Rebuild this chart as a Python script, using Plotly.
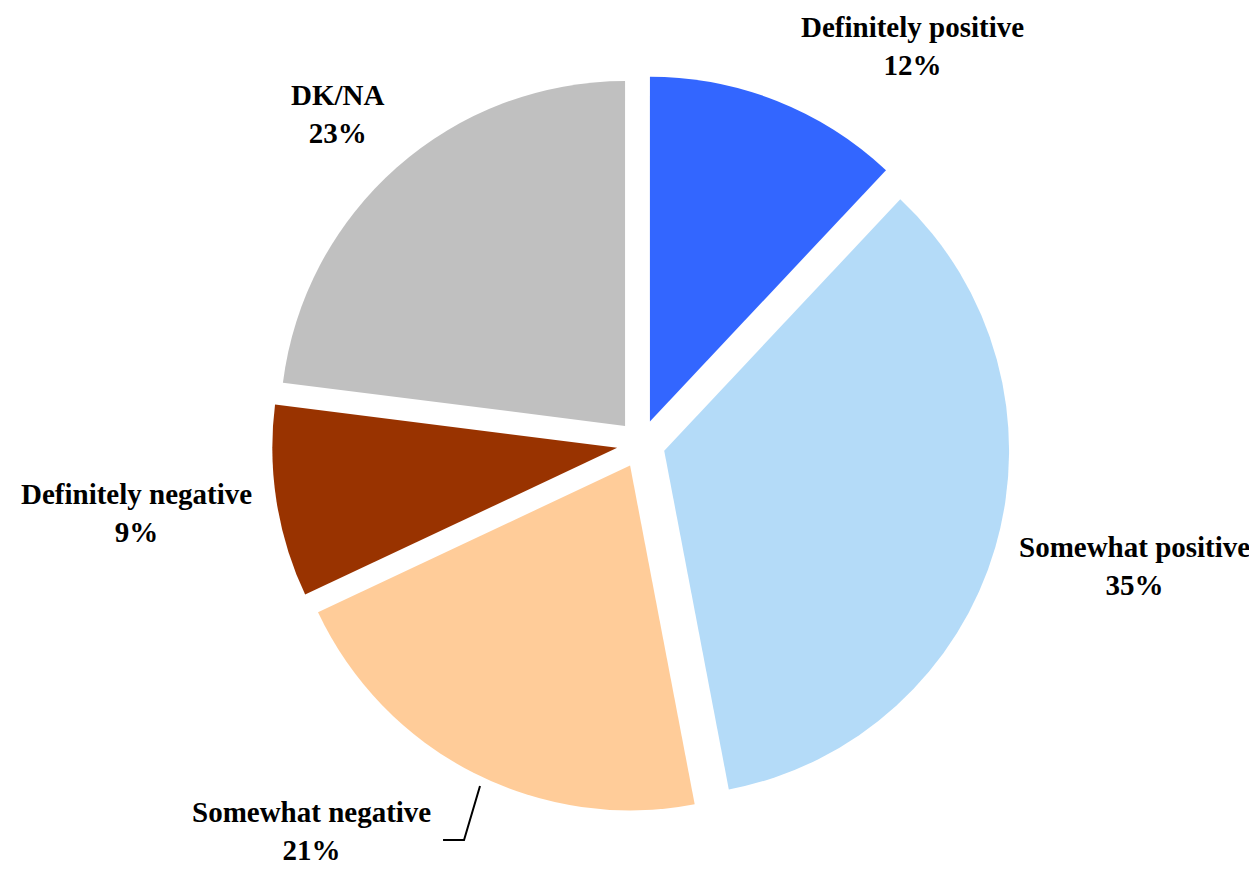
import plotly.graph_objects as go

labels = ['Definitely positive', 'Somewhat positive', 'Somewhat negative', 'Definitely negative', 'DK/NA']
values = [12, 35, 21, 9, 23]
colors = ['#3366FF', '#B4DBF8', '#FFCC99', '#993300', '#C0C0C0']

W, H = 1257, 870
# label centres in pixels (x, y)
label_pos = [(904, 38), (1126, 558), (303, 823), (128, 505), (330, 106)]

fig = go.Figure()
fig.add_trace(go.Pie(
    labels=labels,
    values=values,
    sort=False,
    direction='clockwise',
    rotation=0,
    pull=[0.07] * len(values),
    marker=dict(colors=colors, line=dict(width=0)),
    textinfo='none',
    hoverinfo='label+percent',
    showlegend=False,
    domain=dict(x=[0.0072, 1.0], y=[0.0747, 0.923]),
))

for lab, val, (px, py) in zip(labels, values, label_pos):
    fig.add_annotation(
        x=px / W, y=1 - py / H, xref='paper', yref='paper',
        text=f"{lab}<br>{val}%",
        showarrow=False,
        xanchor='center', yanchor='middle',
        font=dict(family='Liberation Serif', size=29, color='black', weight='bold'),
    )

# leader line for "Somewhat negative"
pts = [(435, 832), (456, 832), (472, 778)]
path = 'M ' + ' L '.join(f'{x / W:.4f},{1 - y / H:.4f}' for x, y in pts)
fig.add_shape(type='path', path=path, xref='paper', yref='paper',
              line=dict(color='black', width=2))

fig.update_layout(
    width=W, height=H,
    margin=dict(l=0, r=0, t=0, b=0),
    paper_bgcolor='white',
    plot_bgcolor='white',
)

fig.write_html("out.html")
